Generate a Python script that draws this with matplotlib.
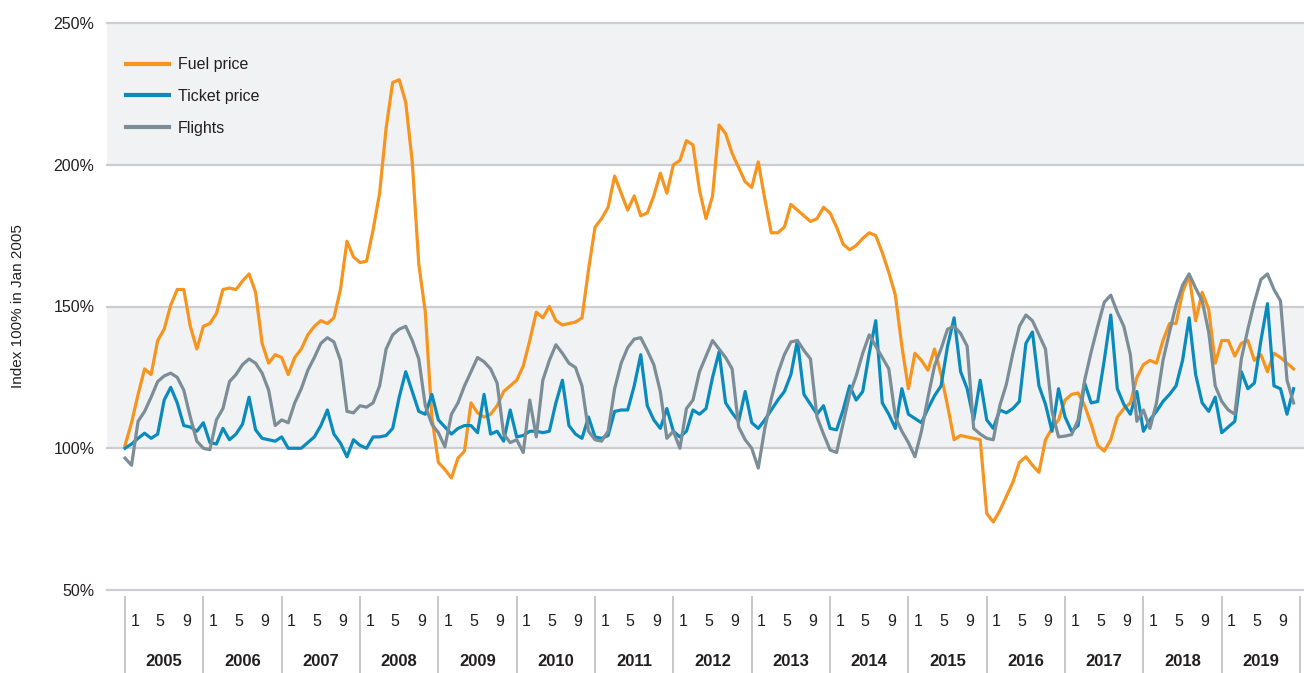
import matplotlib
matplotlib.use("Agg")
import matplotlib.pyplot as plt
import numpy as np

plt.rcParams['font.family'] = ['Liberation Sans Narrow', 'Liberation Sans', 'DejaVu Sans']

years = list(range(2005, 2020))
month_ticks = [1, 5, 9]
series_names = ["Fuel price", "Ticket price", "Flights"]

fuel = [
    101, 109, 119, 128, 126, 138, 142, 150.5, 156, 156, 143, 135,
    143, 144, 147.5, 156, 156.5, 156, 159, 161.5, 155, 137, 130, 133,
    132, 126, 132, 135, 140, 143, 145, 144, 146, 156, 173, 167.5,
    165.5, 166, 177, 190, 213, 229, 230, 222, 201, 165, 148, 111,
    95, 92.5, 89.5, 96.5, 99, 116, 112.5, 111, 112, 115, 120, 122,
    124, 129, 138, 148, 146, 150, 145, 143.5, 144, 144.5, 146, 163,
    178, 181, 185, 196, 190, 184, 189, 182, 183, 189, 197, 190,
    200, 201.5, 208.5, 207, 191, 181, 189, 214, 211, 204, 199, 194,
    192, 201, 188, 176, 176, 178, 186, 184, 182, 180, 181, 185,
    183, 178, 172, 170, 171.5, 174, 176, 175, 169, 162, 154, 136,
    121, 133.5, 131, 127.5, 135, 126, 115, 103, 104.5, 104, 103.5, 103,
    77, 74, 78, 83, 88, 95, 97, 94, 91.5, 103, 107, 110,
    117, 119, 119.5, 115, 108.5, 101, 99, 103, 111, 114, 116, 125,
    129.5, 131, 130, 138, 144, 144, 155, 161, 145, 155, 149, 130,
    138, 138, 132.5, 137, 138, 131, 133, 127, 133.5, 132, 130, 128,
]

ticket = [
    100, 101.5, 103.5, 105.3, 103.5, 105, 117, 121.5, 116, 108, 107.5, 106,
    109, 102, 101.5, 107, 103, 105, 108.5, 118, 106.5, 103.5, 103, 102.5,
    104, 100, 100, 100, 102, 104, 108, 113.5, 105, 101.8, 97, 103,
    101, 100, 104, 104, 104.5, 107, 118, 127, 120, 113, 112, 119,
    110, 107.5, 105, 107, 108, 108, 105.5, 119, 105, 106, 102.5, 113.5,
    104, 104.5, 106, 106, 105.5, 106, 116, 124, 108, 105, 103.5, 111,
    104, 103.5, 104.5, 113, 113.5, 113.5, 122, 133, 115, 110, 107, 114,
    106, 104, 106, 113.5, 112, 114, 125, 134, 116, 112.5, 109.5, 120,
    109, 107, 110, 113.5, 117, 120, 126, 138, 119, 115.5, 112, 115,
    107, 106.5, 113.5, 122, 117, 120, 133.5, 145, 116, 112, 107, 121,
    112, 110.5, 109, 114, 118.5, 122, 136, 146, 127, 121, 110, 124,
    110, 107, 113.5, 112.5, 114, 116.5, 137, 141, 122, 115.5, 106, 121,
    111, 106, 108, 123, 116, 116.5, 131, 147, 121, 115.5, 112, 120,
    106, 110, 113, 116.5, 119, 122, 131, 146, 126, 116, 113, 118,
    105.5, 107.5, 109.5, 127, 121, 123, 138, 151, 122, 121, 112, 121,
]

flights = [
    96.5, 94, 109.5, 113, 118, 123.5, 125.5, 126.5, 125, 120.5, 111, 102.5,
    100, 99.5, 110, 114, 123.5, 126, 129.5, 131.5, 130, 126.5, 120.5, 108,
    110, 109, 116, 121, 127.5, 132, 137, 139, 137.5, 131, 113, 112.5,
    115, 114.5, 116, 122, 135, 140, 142, 143, 138, 131.5, 115, 108.5,
    105.5, 100.5, 112, 116, 122, 127, 132, 130.5, 128, 123, 105, 102,
    103, 98.5, 117, 104, 124, 131, 136.5, 133.5, 130, 128.5, 122, 106,
    103, 102.5, 106, 121, 130, 135.5, 138.5, 139, 134.5, 129.5, 120, 103.5,
    106, 100, 114, 117, 127, 132.5, 138, 135, 132, 128, 107.5, 103,
    100, 93, 107, 117.5, 126.5, 133, 137.5, 138, 134.5, 131.5, 111, 105,
    99.4, 98.5, 108.8, 119, 125.5, 133.5, 140, 136, 132, 128, 111, 106,
    102, 97, 106, 118, 129, 135, 142, 143, 140.5, 136, 107, 105,
    103.5, 103, 115, 122.5, 133.5, 143, 147, 145, 140, 135, 113, 104,
    104.3, 104.8, 110, 124, 134, 143, 151.5, 154, 148, 143, 133, 109.5,
    113.5, 107, 116, 131, 141, 150.5, 157.5, 161.5, 156.5, 152, 141, 122,
    116.5, 113.5, 112, 131.5, 142, 151.5, 159.5, 161.5, 156, 152, 124, 116,
]

colors = ["#F7941E", "#0A8BBE", "#7B8D97"]
band_color = "#F1F2F4"
grid_color = "#CDCDD1"
text_color = "#231F20"

fig = plt.figure(figsize=(13.04, 6.73), dpi=100)
ax = fig.add_axes([107 / 1304, 1 - 590 / 673, 1197 / 1304, 567 / 673])

n_months = 12 * len(years)
months = np.arange(n_months)

ax.axhspan(100, 150, color=band_color, zorder=0, lw=0)
ax.axhspan(200, 250, color=band_color, zorder=0, lw=0)
for v in [50, 100, 150, 200, 250]:
    ax.axhline(v, color=grid_color, lw=1.6, zorder=1, clip_on=False)

for name, data, c in zip(series_names, [fuel, ticket, flights], colors):
    ax.plot(months[:len(data)], data, color=c, lw=2.3, label=name, zorder=3,
            solid_joinstyle='round')

ax.set_xlim(-2.76, 180.6)
ax.set_ylim(50, 250)
for s in ax.spines.values():
    s.set_visible(False)
ax.set_xticks([])
ax.set_yticks([50, 100, 150, 200, 250])
ax.set_yticklabels([f"{v}%" for v in [50, 100, 150, 200, 250]])
ax.tick_params(axis='y', length=0, pad=9, labelsize=11.5, labelcolor=text_color)

# category axis below
trans = ax.get_xaxis_transform()
for i in range(len(years) + 1):
    ax.plot([12 * i, 12 * i], [-0.012, -0.15], transform=trans, color="#C8C8C8",
            lw=1.4, clip_on=False)
for i, y in enumerate(years):
    for mt, off in zip(month_ticks, [1.5, 5.4, 9.4]):
        ax.text(12 * i + off, -0.055, str(mt), transform=trans, ha='center', va='center',
                fontsize=11.5, color=text_color)
    ax.text(12 * i + 6, -0.126, str(y), transform=trans, ha='center', va='center',
            fontsize=12, fontweight='bold', color=text_color)

fig.text(18 / 1304, 1 - 306 / 673, "Index 100% in Jan 2005", rotation=90,
         ha='center', va='center', fontsize=11, color=text_color)

leg = ax.legend(loc='upper left', bbox_to_anchor=(0.004, 0.965), frameon=False,
                handlelength=2.7, handletextpad=0.55, labelspacing=1.05,
                fontsize=11.5, borderaxespad=0.5)
for t in leg.get_texts():
    t.set_color(text_color)
for l in leg.get_lines():
    l.set_linewidth(3)

fig.savefig("out.png", dpi=100)
